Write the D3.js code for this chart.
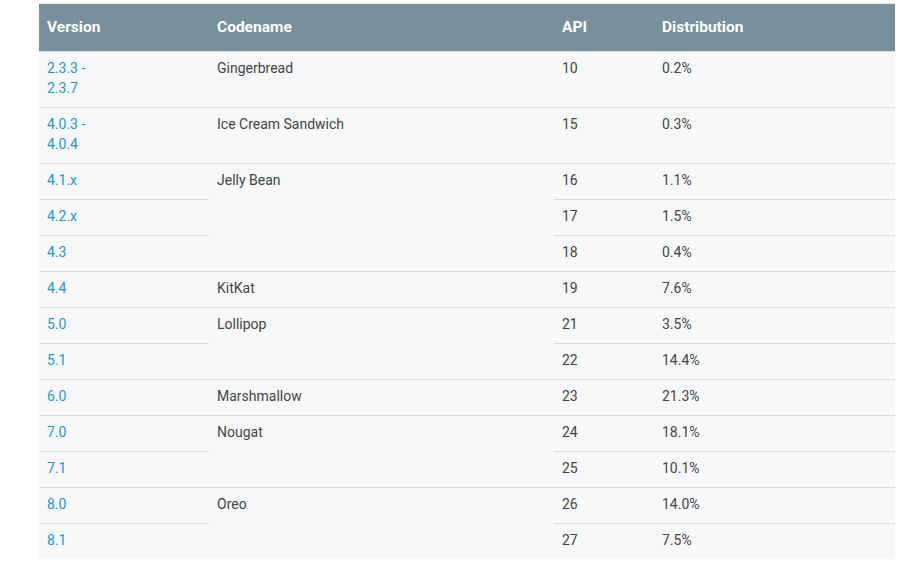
<!DOCTYPE html>
<html>
<head>
<meta charset="utf-8">
<script src="https://cdn.jsdelivr.net/npm/d3@7"></script>
<style>
  html, body { margin: 0; padding: 0; background: #fff; }
  body { font-family: Roboto, "Noto Sans", sans-serif; }
  #chart { position: absolute; left: 39px; top: 3px; }
  table { border-collapse: separate; border-spacing: 0; table-layout: fixed; width: 856px; background: #f7f8fa; border-top: 1px solid #e4e6e8; }
  th { background: #78909c; color: #fff; font-size: 15.5px; font-weight: bold; text-align: left;
       height: 47px; padding: 0 8px 2px; vertical-align: middle; box-sizing: border-box; }
  td { font-size: 14px; line-height: 20px; color: #444; padding: 6px 8px 9px; vertical-align: top;
       border-top: 1px solid #dadce0; white-space: pre-line; }
  td.version { color: #2196d6; }
</style>
</head>
<body>
<div id="chart"></div>
<script>
// table content
var headers = ["Version", "Codename", "API", "Distribution"];
var versions = ["2.3.3 -\n2.3.7", "4.0.3 -\n4.0.4", "4.1.x", "4.2.x", "4.3", "4.4",
                "5.0", "5.1", "6.0", "7.0", "7.1", "8.0", "8.1"];
var codenames = ["Gingerbread", "Ice Cream Sandwich", "Jelly Bean", "KitKat",
                 "Lollipop", "Marshmallow", "Nougat", "Oreo"];
var codenameSpans = [1, 1, 3, 1, 2, 1, 2, 2];
var apiLevels = [10, 15, 16, 17, 18, 19, 21, 22, 23, 24, 25, 26, 27];
var distribution = [0.2, 0.3, 1.1, 1.5, 0.4, 7.6, 3.5, 14.4, 21.3, 18.1, 10.1, 14.0, 7.5];

var colWidths = [170, 345, 100, 241];

// which row starts a codename group
var groupStart = {};
var r = 0;
codenames.forEach(function(name, i) {
  groupStart[r] = {name: name, span: codenameSpans[i]};
  r += codenameSpans[i];
});

var fmt = d3.format(".1f");

var table = d3.select("#chart").append("table");

table.append("colgroup").selectAll("col")
  .data(colWidths)
  .enter().append("col")
  .style("width", function(d) { return d + "px"; });

table.append("thead").append("tr").selectAll("th")
  .data(headers)
  .enter().append("th")
  .text(function(d) { return d; });

var rows = table.append("tbody").selectAll("tr")
  .data(versions)
  .enter().append("tr");

rows.each(function(v, i) {
  var tr = d3.select(this);
  tr.append("td").attr("class", "version").text(v);
  if (groupStart[i]) {
    tr.append("td")
      .attr("rowspan", groupStart[i].span)
      .text(groupStart[i].name);
  }
  tr.append("td").text(apiLevels[i]);
  tr.append("td").text(fmt(distribution[i]) + "%");
});
</script>
</body>
</html>
